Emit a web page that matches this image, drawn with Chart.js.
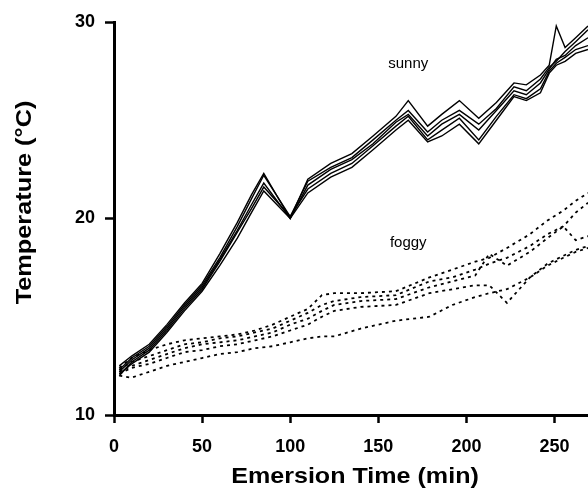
<!DOCTYPE html>
<html>
<head>
<meta charset="utf-8">
<script src="https://cdn.jsdelivr.net/npm/chart.js@4"></script>
<style>
  html, body { margin: 0; padding: 0; background: #fff; }
  #wrap { width: 588px; height: 495px; position: relative; }
</style>
</head>
<body>
<div id="wrap"><canvas id="tempChart"></canvas></div>
<script>
// emersion time (min) for the sunny runs
const sunnyTimes = [3, 10, 20, 30, 40, 50, 60, 70, 78, 85, 100, 110, 123, 135, 147, 160, 167, 178, 186, 196, 207, 217, 227, 234, 242, 247, 251, 256, 262, 269];
const sunny1 = [12.5, 13.0, 13.6, 14.6, 15.7, 16.7, 18.2, 19.8, 21.2, 22.3, 20.0, 22.0, 22.8, 23.3, 24.2, 25.2, 26.0, 24.7, 25.3, 26.0, 25.1, 25.9, 26.9, 26.8, 27.3, 27.8, 29.8, 28.7, 29.2, 29.8];
const sunny2 = [12.3, 12.9, 13.5, 14.5, 15.6, 16.6, 18.0, 19.6, 21.0, 22.2, 20.1, 21.9, 22.6, 23.1, 24.0, 25.0, 25.5, 24.4, 25.0, 25.5, 24.8, 25.6, 26.7, 26.5, 27.1, 27.7, 28.0, 28.5, 29.0, 29.6];
const sunny3 = [12.2, 12.8, 13.4, 14.4, 15.5, 16.5, 17.9, 19.4, 20.7, 21.8, 20.0, 21.7, 22.5, 23.0, 23.8, 24.9, 25.3, 24.2, 24.8, 25.3, 24.5, 25.5, 26.5, 26.3, 26.9, 27.6, 28.1, 28.3, 28.8, 29.2];
const sunny4 = [12.0, 12.7, 13.3, 14.3, 15.4, 16.4, 17.8, 19.3, 20.5, 21.6, 20.1, 21.5, 22.3, 22.8, 23.7, 24.7, 25.2, 24.0, 24.5, 25.1, 24.0, 25.2, 26.3, 26.1, 26.6, 27.5, 27.9, 28.2, 28.6, 28.8];
const sunny5 = [12.1, 12.6, 13.2, 14.2, 15.3, 16.3, 17.6, 19.0, 20.3, 21.4, 20.0, 21.3, 22.1, 22.6, 23.5, 24.5, 25.0, 23.9, 24.2, 24.8, 23.8, 25.0, 26.2, 26.0, 26.4, 27.4, 27.8, 28.0, 28.4, 28.6];

// emersion time (min) for the foggy runs
const foggyTimes = [3, 10, 20, 30, 40, 50, 60, 70, 80, 90, 100, 110, 118, 125, 140, 160, 179, 192, 205, 213, 223, 236, 246, 255, 262, 269];
const foggy1 = [12.4, 12.9, 13.3, 13.6, 13.8, 13.9, 14.0, 14.1, 14.3, 14.6, 15.0, 15.4, 16.1, 16.2, 16.2, 16.3, 17.0, 17.4, 17.8, 18.0, 18.5, 19.2, 19.9, 20.4, 20.9, 21.3];
const foggy2 = [12.3, 12.7, 13.0, 13.3, 13.6, 13.7, 13.9, 14.0, 14.2, 14.4, 14.8, 15.2, 15.6, 15.8, 16.0, 16.1, 16.8, 17.0, 17.4, 17.7, 18.0, 18.6, 19.2, 19.6, 20.3, 20.8];
const foggy3 = [12.2, 12.5, 12.8, 13.1, 13.4, 13.6, 13.7, 13.8, 14.0, 14.2, 14.6, 14.9, 15.3, 15.6, 15.8, 15.9, 16.5, 16.8, 17.1, 18.2, 17.6, 18.3, 19.0, 19.6, 18.9, 19.1];
const foggy4 = [12.1, 12.4, 12.6, 12.9, 13.2, 13.3, 13.5, 13.6, 13.8, 14.0, 14.3, 14.6, 15.0, 15.3, 15.5, 15.6, 16.2, 16.4, 16.6, 16.6, 15.7, 17.0, 17.7, 18.1, 18.4, 18.6];
const foggy5 = [12.0, 11.9, 12.2, 12.5, 12.7, 12.9, 13.1, 13.2, 13.4, 13.5, 13.7, 13.9, 14.0, 14.0, 14.4, 14.8, 15.0, 15.6, 16.0, 16.2, 16.4, 17.0, 17.6, 18.0, 18.3, 18.5];

const xTicks = [0, 50, 100, 150, 200, 250];
const yTicks = [10, 20, 30];

// text labels placed at data positions
const notes = [
    { text: 'sunny', x: 167, y: 27.85 },
    { text: 'foggy', x: 167, y: 18.75 }
];

const FAMILY = '"Liberation Sans", Arial, sans-serif';

function toPoints(times, values) {
    return times.map((t, i) => ({ x: t, y: values[i] }));
}

function sunnySet(values) {
    return {
        data: toPoints(sunnyTimes, values),
        borderColor: '#000',
        borderWidth: 1.4,
        pointRadius: 0,
        fill: false
    };
}

function foggySet(values) {
    return {
        data: toPoints(foggyTimes, values),
        borderColor: '#000',
        borderWidth: 1.8,
        borderDash: [3, 4],
        pointRadius: 0,
        fill: false
    };
}

// notes inside the plot plus the two axis titles (the scan's font is a bit wider than ours)
const notePlugin = {
    id: 'notes',
    afterDraw(chart) {
        const ctx = chart.ctx;
        const xs = chart.scales.x, ys = chart.scales.y;
        const area = chart.chartArea;
        ctx.save();
        ctx.fillStyle = '#000';
        ctx.font = '15px ' + FAMILY;
        ctx.textAlign = 'center';
        ctx.textBaseline = 'middle';
        notes.forEach(n => {
            ctx.fillText(n.text, xs.getPixelForValue(n.x), ys.getPixelForValue(n.y));
        });

        ctx.font = 'bold 22px ' + FAMILY;
        // x title
        ctx.save();
        ctx.translate((area.left + area.right) / 2 + 4, chart.height - 18);
        ctx.scale(1.14, 1);
        ctx.fillText('Emersion Time (min)', 0, 0);
        ctx.restore();
        // y title
        ctx.save();
        ctx.translate(25, (area.top + area.bottom) / 2 - 16);
        ctx.rotate(-Math.PI / 2);
        ctx.scale(1.15, 1);
        ctx.fillText('Temperature (°C)', 0, 0);
        ctx.restore();
        ctx.restore();
    }
};

const tickFont = { family: FAMILY, size: 18, weight: 'bold' };

new Chart(document.getElementById('tempChart').getContext('2d'), {
    type: 'line',
    data: {
        datasets: [
            sunnySet(sunny1), sunnySet(sunny2), sunnySet(sunny3), sunnySet(sunny4), sunnySet(sunny5),
            foggySet(foggy1), foggySet(foggy2), foggySet(foggy3), foggySet(foggy4), foggySet(foggy5)
        ]
    },
    options: {
        responsive: true,
        maintainAspectRatio: false,
        animation: false,
        layout: { padding: { top: 22, right: 0, left: 0, bottom: 0 } },
        plugins: {
            legend: { display: false },
            tooltip: { enabled: false }
        },
        scales: {
            x: {
                type: 'linear',
                min: 0,
                max: 269,
                afterBuildTicks: s => { s.ticks = xTicks.map(v => ({ value: v })); },
                afterFit: s => { s.height = 80; },
                border: { display: true, color: '#000', width: 3 },
                grid: { drawOnChartArea: false, drawTicks: true, tickLength: 8, tickWidth: 2.5, tickColor: '#000' },
                ticks: { color: '#000', font: tickFont, padding: 13, maxRotation: 0 }
            },
            y: {
                type: 'linear',
                min: 10,
                max: 30,
                afterBuildTicks: s => { s.ticks = yTicks.map(v => ({ value: v })); },
                afterFit: s => { s.width = 114; },
                border: { display: true, color: '#000', width: 3 },
                grid: { drawOnChartArea: false, drawTicks: true, tickLength: 9, tickWidth: 2.5, tickColor: '#000' },
                ticks: { color: '#000', font: tickFont, padding: 10 }
            }
        }
    },
    plugins: [notePlugin]
});
</script>
</body>
</html>
